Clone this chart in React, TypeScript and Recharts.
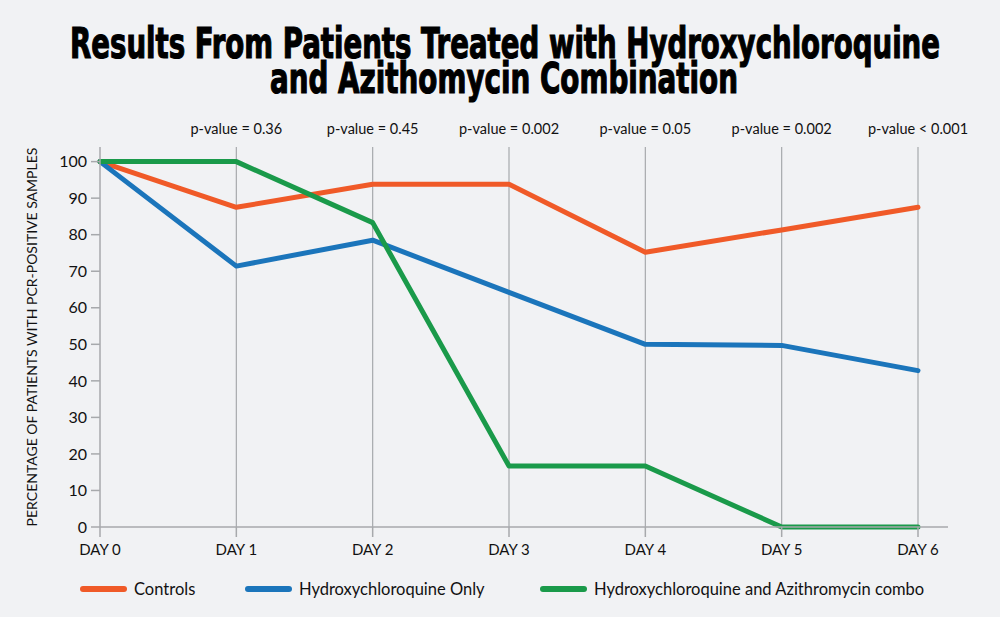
import { LineChart, Line, XAxis, YAxis, ReferenceLine } from 'recharts';

// day labels + p-values shown above each day
const days = ['DAY 0', 'DAY 1', 'DAY 2', 'DAY 3', 'DAY 4', 'DAY 5', 'DAY 6'];
const pValues = ['', 'p-value = 0.36', 'p-value = 0.45', 'p-value = 0.002', 'p-value = 0.05', 'p-value = 0.002', 'p-value < 0.001'];

const controls = [100, 87.5, 93.8, 93.8, 75.2, 81.3, 87.5];
const hcqOnly = [100, 71.4, 78.5, 64.2, 50, 49.7, 42.8];
const hcqAzi = [100, 100, 83.3, 16.7, 16.7, 0, 0];

const yTicks = [0, 10, 20, 30, 40, 50, 60, 70, 80, 90, 100];

const series = [
  { key: 'controls', name: 'Controls', color: '#f05a28' },
  { key: 'hcq', name: 'Hydroxychloroquine Only', color: '#1b75bb' },
  { key: 'combo', name: 'Hydroxychloroquine and Azithromycin combo', color: '#1a9a4a' },
];

const data = days.map((d, i) => ({
  day: d,
  p: pValues[i],
  controls: controls[i],
  hcq: hcqOnly[i],
  combo: hcqAzi[i],
}));

const FONT = 'Lato, "Open Sans", sans-serif';
const TITLE_FONT = '"DejaVu Sans Condensed", "DejaVu Sans", sans-serif';
const legendX = [80, 245, 540];

function LegendRow() {
  return (
    <div style={{ position: 'absolute', left: 0, top: 579, height: 30, width: 1000 }}>
      {series.map((s, i) => (
        <div key={s.key} style={{ position: 'absolute', left: legendX[i], top: 0, display: 'flex', alignItems: 'center' }}>
          <div style={{ width: 47, height: 6, borderRadius: 3, background: s.color, marginRight: 7 }} />
          <span style={{ fontFamily: FONT, fontSize: 16.5, color: '#111' }}>{s.name}</span>
        </div>
      ))}
    </div>
  );
}

export default function App() {
  return (
    <div style={{ position: 'absolute', left: 0, top: 0, width: 1000, height: 617, background: '#f1f2f4' }}>
      <svg width={1000} height={110} style={{ position: 'absolute', left: 0, top: 0 }}>
        <text x={505} y={58} textAnchor="middle" textLength={870} lengthAdjust="spacingAndGlyphs"
          fontFamily={TITLE_FONT} fontWeight="bold" fontSize={43} fill="#000" stroke="#000" strokeWidth={1.2}>
          Results From Patients Treated with Hydroxychloroquine
        </text>
        <text x={504} y={93} textAnchor="middle" textLength={468} lengthAdjust="spacingAndGlyphs"
          fontFamily={TITLE_FONT} fontWeight="bold" fontSize={43} fill="#000" stroke="#000" strokeWidth={1.2}>
          and Azithomycin Combination
        </text>
      </svg>
      <LineChart width={1000} height={617} data={data} margin={{ top: 117, right: 52, bottom: 60, left: 0 }}
        style={{ position: 'absolute', left: 0, top: 0 }}>
        <XAxis dataKey="day" padding={{ left: 0, right: 30 }} stroke="#a7a9ac" strokeWidth={1.5}
          tickSize={10} tickMargin={7} height={30}
          tick={{ fill: '#111', fontSize: 15, fontFamily: FONT }} interval={0} />
        <XAxis xAxisId="top" orientation="top" dataKey="p" padding={{ left: 0, right: 30 }}
          axisLine={false} tickLine={false} tickMargin={7} height={30}
          tick={{ fill: '#111', fontSize: 14.5, fontFamily: FONT }} interval={0} />
        <YAxis domain={[0, 104]} ticks={yTicks} width={100} stroke="#a7a9ac" strokeWidth={1.5}
          tickSize={9} tickMargin={4}
          tick={{ fill: '#111', fontSize: 16, fontFamily: FONT }}
          label={{ value: 'PERCENTAGE OF PATIENTS WITH PCR-POSITIVE SAMPLES', angle: -90, position: 'insideLeft', offset: 32,
            style: { textAnchor: 'middle', fill: '#111', fontSize: 14, fontFamily: FONT } }} />
        {days.slice(1).map(d => (
          <ReferenceLine key={d} x={d} stroke="#a7a9ac" strokeWidth={1.2} />
        ))}
        {series.map(s => (
          <Line key={s.key} type="linear" dataKey={s.key} name={s.name} stroke={s.color} strokeWidth={5}
            strokeLinecap="round" strokeLinejoin="round" dot={false} activeDot={false} isAnimationActive={false} />
        ))}
      </LineChart>
      <LegendRow />
    </div>
  );
}
